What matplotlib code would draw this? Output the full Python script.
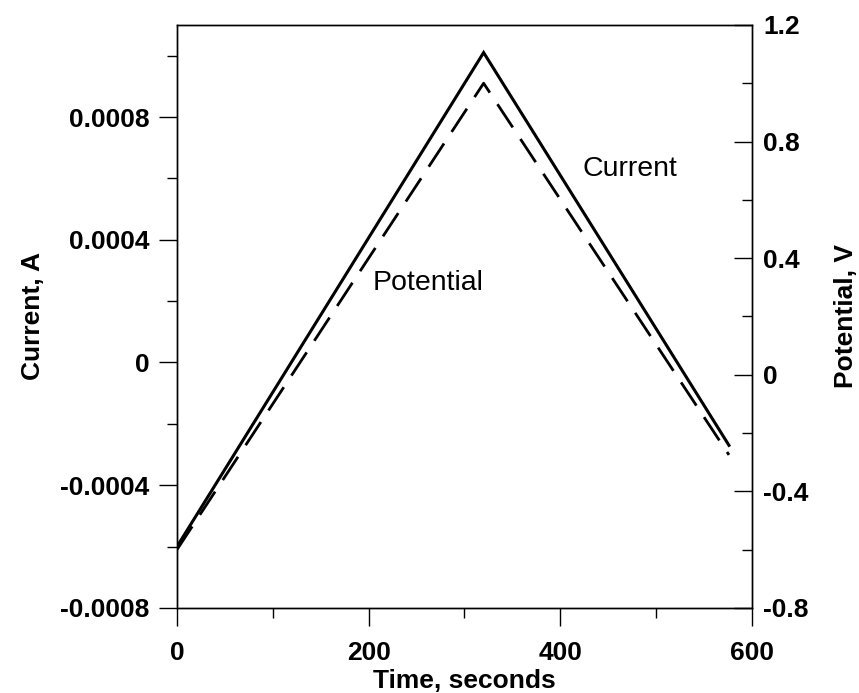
import matplotlib
matplotlib.use("Agg")
import matplotlib.pyplot as plt
from matplotlib.ticker import FixedLocator, MultipleLocator

plt.rcParams.update({
    "font.family": ["Liberation Sans", "DejaVu Sans"],
    "axes.unicode_minus": False,
    "axes.linewidth": 1.0,
})

# triangular sweep: start, vertex, end
time_s = [0, 320, 576]
current_a = [-0.0006, 0.00101, -0.00027]
potential_v = [-0.6, 1.0, -0.275]

cur_ticks = [-0.0008, -0.0004, 0, 0.0004, 0.0008]
cur_labels = ["-0.0008", "-0.0004", "0", "0.0004", "0.0008"]
pot_ticks = [-0.8, -0.4, 0, 0.4, 0.8, 1.2]
pot_labels = ["-0.8", "-0.4", "0", "0.4", "0.8", "1.2"]
time_ticks = [0, 200, 400, 600]

fig = plt.figure(figsize=(8.59, 6.93), dpi=100)
ax = fig.add_axes([0.206, 0.1227, 0.6694, 0.8413])
ax2 = ax.twinx()

ax.plot(time_s, current_a, color="black", lw=2.2, solid_joinstyle="miter")
ax2.plot(time_s, potential_v, color="black", lw=2.0, dashes=(10, 5))

ax.set_xlim(0, 600)
ax.set_ylim(-0.0008, 0.0011)
ax2.set_ylim(-0.8, 1.2)

ax.xaxis.set_major_locator(FixedLocator(time_ticks))
ax.xaxis.set_minor_locator(MultipleLocator(100))
ax.set_xticklabels([str(t) for t in time_ticks])
ax.yaxis.set_major_locator(FixedLocator(cur_ticks))
ax.set_yticklabels(cur_labels)
ax.yaxis.set_minor_locator(MultipleLocator(0.0002))
ax2.yaxis.set_major_locator(FixedLocator(pot_ticks))
ax2.set_yticklabels(pot_labels)
ax2.yaxis.set_minor_locator(MultipleLocator(0.2))

ax.tick_params(axis="both", which="major", direction="out", length=13, width=1,
               labelsize=19, pad=7)
ax.tick_params(axis="both", which="minor", direction="out", length=7, width=1)
ax.tick_params(axis="x", which="major", pad=11)
ax2.tick_params(axis="y", which="major", direction="in", length=13, width=1,
                labelsize=19, pad=8)
ax2.tick_params(axis="y", which="minor", direction="in", length=7, width=1)
for lab in ax.get_xticklabels() + ax.get_yticklabels() + ax2.get_yticklabels():
    lab.set_fontweight("bold")

ax.set_xlabel("Time, seconds", fontsize=19, fontweight="bold", labelpad=3)
ax.set_ylabel("Current, A", fontsize=19, fontweight="bold", labelpad=11)
ax2.set_ylabel("Potential, V", fontsize=19, fontweight="bold", labelpad=18)

ax.text(423, 0.00063, "Current", fontsize=20.5, ha="left", va="center")
ax.text(204, 0.00026, "Potential", fontsize=20.5, ha="left", va="center")

fig.savefig("out.png", dpi=100)
